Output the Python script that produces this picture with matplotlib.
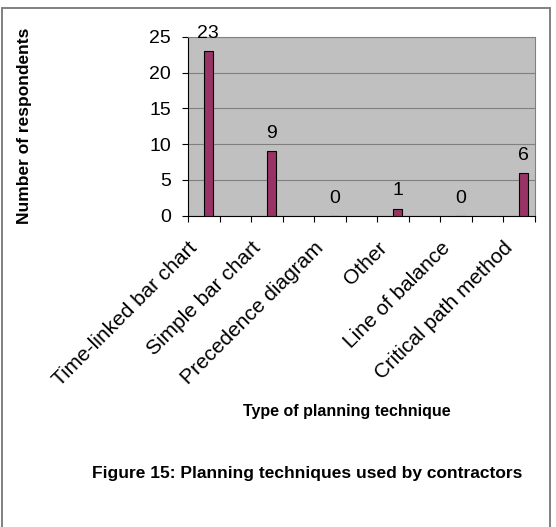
import matplotlib
matplotlib.use('Agg')
import matplotlib.pyplot as plt
from matplotlib.patches import Rectangle
from matplotlib.transforms import ScaledTranslation
import numpy as np

categories = ['Time-linked bar chart', 'Simple bar chart', 'Precedence diagram',
              'Other', 'Line of balance', 'Critical path method']
values = [23, 9, 0, 1, 0, 6]
y_ticks = [0, 5, 10, 15, 20, 25]

plt.rcParams['font.family'] = ['Liberation Sans', 'DejaVu Sans']

W, H = 556, 527
fig = plt.figure(figsize=(W / 100, H / 100), dpi=100)
fig.patch.set_facecolor('white')

# plot area in pixels: left 188, right 535, top 36.7, bottom 215.7
ax = fig.add_axes([188 / W, 1 - 215.7 / H, (535 - 188) / W, (215.7 - 36.7) / H])
ax.set_facecolor('#c0c0c0')

# every category has an empty slot after it (11 slots on the axis)
slots = 2 * len(categories) - 1
pos = np.arange(len(categories)) * 2
bar_off = 0.14
ax.bar(pos + bar_off, values, width=0.28, color='#993366', edgecolor='black',
       linewidth=0.8, zorder=3)

for x, v in zip(pos + bar_off, values):
    ax.annotate(str(v), (x, v), xytext=(0, 9.4), textcoords='offset points',
                ha='center', va='baseline', fontsize=14)

ax.set_xlim(-0.5, slots - 0.5)
ax.set_ylim(0, 25)
ax.set_yticks(y_ticks)
ax.yaxis.grid(True, color='#808080', linewidth=0.8, zorder=1)
ax.set_axisbelow(True)

ax.set_xticks(np.arange(slots + 1) - 0.5)
ax.set_xticklabels([])
ax.set_xticks(pos, minor=True)
ax.set_xticklabels(categories, minor=True, rotation=45, ha='right',
                   rotation_mode='anchor', fontsize=15)
ax.tick_params(axis='x', which='major', direction='out', length=4.3, width=0.8,
               color='black')
ax.tick_params(axis='x', which='minor', length=0, pad=16)
ax.tick_params(axis='y', direction='out', length=4.3, width=0.8, pad=8,
               labelsize=14)
shift = ScaledTranslation(-16 / 100, 0, fig.dpi_scale_trans)
for lab in ax.get_xticklabels(minor=True):
    lab.set_transform(lab.get_transform() + shift)

for s in ['top', 'right']:
    ax.spines[s].set_color('#808080')
    ax.spines[s].set_linewidth(0.8)
for s in ['left', 'bottom']:
    ax.spines[s].set_color('black')
    ax.spines[s].set_linewidth(0.8)

fig.text(25 / W, 1 - 126 / H, 'Number of respondents', rotation=90,
         ha='center', va='center', fontsize=12.5, fontweight='bold')
fig.text(347 / W, 1 - 415.7 / H, 'Type of planning technique',
         ha='center', va='baseline', fontsize=11.5, fontweight='bold')
fig.text(306.7 / W, 1 - 478.3 / H, 'Figure 15: Planning techniques used by contractors',
         ha='center', va='baseline', fontsize=12.5, fontweight='bold')

# outer frame
fig.patches.append(Rectangle((1.7 / W, -0.05), (550.3 - 1.7) / W, 1.05 - 8 / H,
                             transform=fig.transFigure, fill=False,
                             edgecolor='#808080', linewidth=1.4))

fig.savefig('out.png', dpi=100)
